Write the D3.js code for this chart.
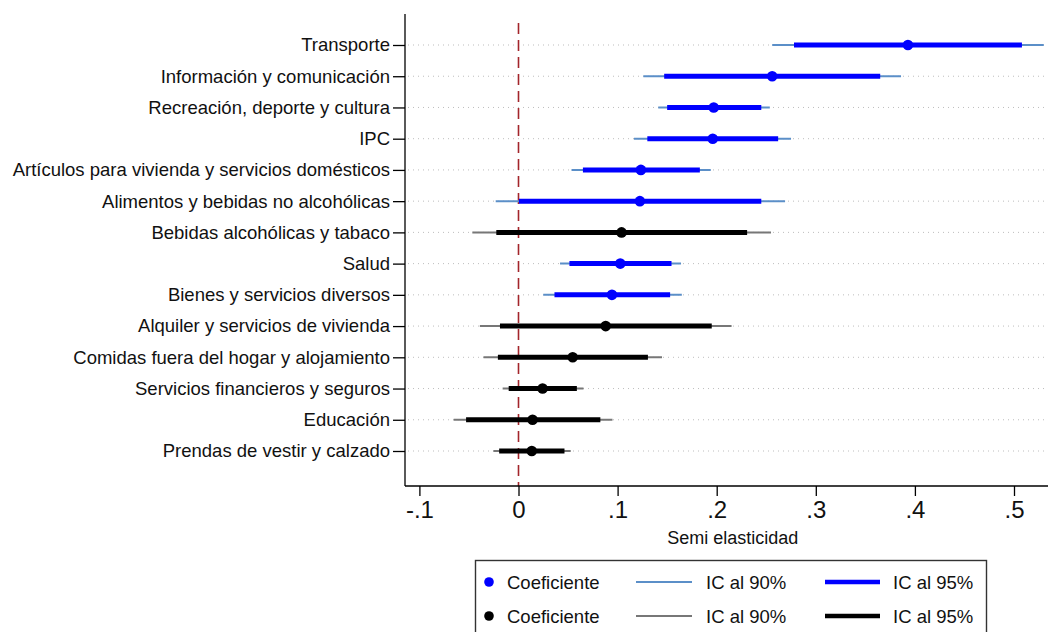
<!DOCTYPE html>
<html><head><meta charset="utf-8">
<script src="https://cdn.jsdelivr.net/npm/d3@7"></script>
<style>body{margin:0;background:#fff}svg{display:block;font-family:"Liberation Sans",Arial,sans-serif}</style>
</head><body><svg id="c" width="1048" height="632"></svg>
<script>
const categories = ["Transporte","Información y comunicación","Recreación, deporte y cultura","IPC","Artículos para vivienda y servicios domésticos","Alimentos y bebidas no alcohólicas","Bebidas alcohólicas y tabaco","Salud","Bienes y servicios diversos","Alquiler y servicios de vivienda","Comidas fuera del hogar y alojamiento","Servicios financieros y seguros","Educación","Prendas de vestir y calzado"];
const coef   = [0.393,0.256,0.197,0.196,0.1235,0.1225,0.104,0.1027,0.0943,0.088,0.0547,0.0243,0.0142,0.0134];
const ciInLo = [0.278,0.147,0.150,0.130,0.065,0.0005,-0.0224,0.0514,0.0363,-0.0187,-0.0208,-0.0099,-0.0529,-0.0195];
const ciInHi = [0.508,0.365,0.245,0.262,0.183,0.245,0.2307,0.1544,0.153,0.195,0.1306,0.0589,0.0826,0.0464];
const ciOutLo= [0.256,0.126,0.141,0.1165,0.0535,-0.023,-0.0466,0.0419,0.025,-0.039,-0.0353,-0.016,-0.0654,-0.0253];
const ciOutHi= [0.530,0.386,0.2536,0.275,0.194,0.269,0.2548,0.164,0.1648,0.215,0.1448,0.0656,0.0948,0.0527];
const significant = [true,true,true,true,true,true,false,true,true,false,false,false,false,false];
const xTicks = [-0.1,0,0.1,0.2,0.3,0.4,0.5];
const xTickLabels = ["-.1","0",".1",".2",".3",".4",".5"];
const legendRows = [["Coeficiente","IC al 90%","IC al 95%"],["Coeficiente","IC al 90%","IC al 95%"]];

const svg = d3.select("#c");
const x = d3.scaleLinear().domain([0,0.5]).range([518.5,1014]);
const y = d3.scalePoint().domain(categories).range([45,451]);
const plotL = 405, plotB = 486, plotT = 14;
const FONT = "Liberation Sans, Arial, sans-serif";
const col = i => significant[i] ? {pt:"#0000ff", thin:"#5b8fc8"} : {pt:"#000000", thin:"#777777"};

// gridlines
svg.append("g").selectAll("line").data(categories).join("line")
  .attr("x1",plotL+3).attr("x2",1048).attr("y1",d=>y(d)).attr("y2",d=>y(d))
  .attr("stroke","#bdbdbd").attr("stroke-width",1).attr("stroke-dasharray","1,4");

// zero line
svg.append("line").attr("x1",x(0)).attr("x2",x(0)).attr("y1",23).attr("y2",plotB)
  .attr("stroke","#a3252b").attr("stroke-width",1.6).attr("stroke-dasharray","11,6");

const g = svg.append("g");
categories.forEach((c,i)=>{
  const cc = col(i);
  g.append("line").attr("x1",x(ciOutLo[i])).attr("x2",x(ciOutHi[i])).attr("y1",y(c)).attr("y2",y(c))
    .attr("stroke",cc.thin).attr("stroke-width",2);
  g.append("line").attr("x1",x(ciInLo[i])).attr("x2",x(ciInHi[i])).attr("y1",y(c)).attr("y2",y(c))
    .attr("stroke",cc.pt).attr("stroke-width",5);
  g.append("circle").attr("cx",x(coef[i])).attr("cy",y(c)).attr("r",5.3).attr("fill",cc.pt);
});

// y axis
const ya = svg.append("g").attr("transform",`translate(${plotL},0)`)
  .call(d3.axisLeft(y).tickSize(12).tickPadding(3));
ya.select(".domain").attr("d",`M0,${plotT}V${plotB}`).attr("stroke","#000").attr("stroke-width",1.3);
ya.selectAll(".tick line").attr("stroke","#000").attr("stroke-width",1.3);
ya.selectAll("text").attr("font-size",18.5).attr("fill","#111").attr("font-family",FONT);

// x axis
const xa = svg.append("g").attr("transform",`translate(0,${plotB})`)
  .call(d3.axisBottom(x).tickValues(xTicks).tickFormat((d,i)=>xTickLabels[i]).tickSize(10).tickPadding(5));
xa.select(".domain").attr("d",`M${plotL},0H1048`).attr("stroke","#000").attr("stroke-width",1.3);
xa.selectAll(".tick line").attr("stroke","#000").attr("stroke-width",1.3);
xa.selectAll("text").attr("font-size",24).attr("fill","#111").attr("font-family",FONT);

svg.append("text").attr("x",x(0.2)+16).attr("y",544).attr("text-anchor","middle")
  .attr("font-size",18).attr("fill","#111").attr("font-family",FONT).text("Semi elasticidad");

// legend
svg.append("rect").attr("x",475.5).attr("y",560.5).attr("width",511).attr("height",80)
  .attr("fill","#fff").attr("stroke","#333").attr("stroke-width",1.4);
legendRows.forEach((row,r)=>{
  const yy = 582 + r*34;
  const cc = col(r===0?0:6);
  svg.append("circle").attr("cx",489).attr("cy",yy).attr("r",4.8).attr("fill",cc.pt);
  svg.append("text").attr("x",507).attr("y",yy+6.5).attr("font-size",18.5).attr("fill","#111").attr("font-family",FONT).text(row[0]);
  svg.append("line").attr("x1",636).attr("x2",692).attr("y1",yy).attr("y2",yy).attr("stroke",cc.thin).attr("stroke-width",2);
  svg.append("text").attr("x",706).attr("y",yy+6.5).attr("font-size",18.5).attr("fill","#111").attr("font-family",FONT).text(row[1]);
  svg.append("line").attr("x1",825).attr("x2",880).attr("y1",yy).attr("y2",yy).attr("stroke",cc.pt).attr("stroke-width",4.5);
  svg.append("text").attr("x",893).attr("y",yy+6.5).attr("font-size",18.5).attr("fill","#111").attr("font-family",FONT).text(row[2]);
});
</script></body></html>
